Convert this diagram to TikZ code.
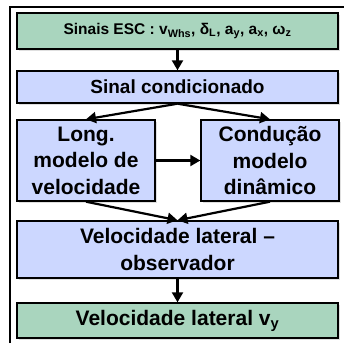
\documentclass[tikz,border=0pt]{standalone}
\usepackage{fontspec}
\setmainfont{Liberation Sans}
\usetikzlibrary{arrows.meta,shadows}
\definecolor{boxgreen}{RGB}{169,213,190}
\definecolor{boxblue}{RGB}{204,215,255}
\tikzset{
  box/.style={draw=black, line width=1.4pt, inner sep=0pt, align=center,
    font=\bfseries\fontsize{21}{26.5}\selectfont,
    drop shadow={opacity=0.25, shadow xshift=1.5pt, shadow yshift=-1.5pt}},
  greenbox/.style={box, fill=boxgreen},
  bluebox/.style={box, fill=boxblue},
  arr/.style={line width=2.2pt, -{Triangle[length=10pt,width=11pt]}},
  frameline/.style={line width=2pt}
}
\begin{document}
\begin{tikzpicture}[x=1pt,y=-1pt]
\useasboundingbox (0,0) rectangle (344,343);
\fill[white] (0,0) rectangle (344,343);
\coordinate (ftl) at (9.5,7);
\coordinate (ftr) at (344,7);
\coordinate (fbl) at (9.5,343);
\draw[frameline] (fbl) -- (ftl) -- (ftr);

\node[greenbox, minimum width=321pt, minimum height=36pt, font=\bfseries\fontsize{15.5}{18}\selectfont] (top) at (177.5,31)
  {Sinais ESC : v\textsubscript{Whs}, δ\textsubscript{L}, a\textsubscript{y}, a\textsubscript{x}, ω\textsubscript{z}};
\node[bluebox, minimum width=321pt, minimum height=32pt, font=\bfseries\fontsize{19}{23}\selectfont] (sig) at (177.5,87) {Sinal condicionado};
\node[bluebox, minimum width=138pt, minimum height=81pt] (long) at (86,160.5) {Long.\\modelo de\\velocidade};
\node[bluebox, minimum width=138pt, minimum height=81pt] (cond) at (270,160.5) {Condução\\modelo\\dinâmico};
\node[bluebox, minimum width=321pt, minimum height=57pt] (obs) at (177.5,249.5) {Velocidade lateral –\\observador};
\node[greenbox, minimum width=321pt, minimum height=35pt] (out) at (177.5,320.5) {Velocidade lateral v\textsubscript{y}};

\draw[arr] (top) -- (sig);
\draw[arr] (sig.south) -- (long.north);
\draw[arr] (sig.south) -- (cond.north);
\draw[arr] (long) -- (cond);
\draw[arr] (long.south) -- (obs.north);
\draw[arr] (cond.south) -- (obs.north);
\draw[arr] (obs) -- (out);
\end{tikzpicture}
\end{document}
